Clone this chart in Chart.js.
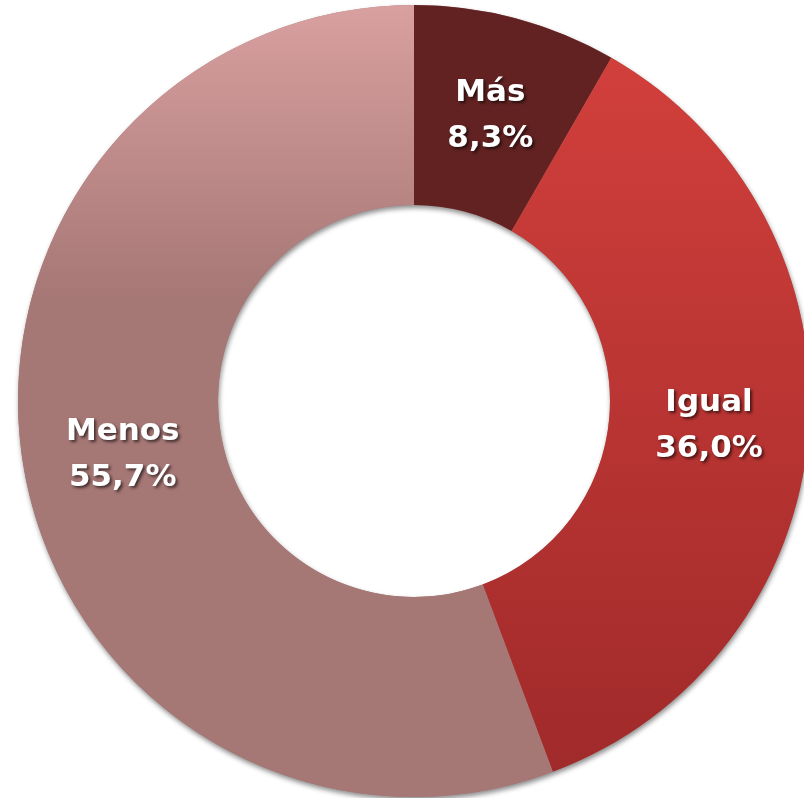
<!DOCTYPE html>
<html>
<head>
<meta charset="utf-8">
<script src="https://cdn.jsdelivr.net/npm/chart.js@4.4.1/dist/chart.umd.min.js"></script>
<style>
html,body{margin:0;padding:0;background:#fff;overflow:hidden;}
#wrap{position:relative;width:804px;height:798px;overflow:hidden;}
#box{position:absolute;left:0;top:0;width:810px;height:798px;}
</style>
</head>
<body>
<div id="wrap"><div id="box"><canvas id="c"></canvas></div></div>
<script>
const categories = ["Más", "Igual", "Menos"];
const values = [8.3, 36.0, 55.7];
const valueLabels = ["8,3%", "36,0%", "55,7%"];

function grad(ctx, chartArea, y0, y1, c0, c1) {
  const g = ctx.createLinearGradient(0, y0, 0, y1);
  g.addColorStop(0, c0);
  g.addColorStop(1, c1);
  return g;
}

const ringShadow = {
  id: 'ringShadow',
  beforeDatasetsDraw(chart) {
    const meta = chart.getDatasetMeta(0);
    if (!meta.data.length) return;
    const a = meta.data[0];
    const ctx = chart.ctx;
    ctx.save();
    ctx.beginPath();
    ctx.arc(a.x, a.y, a.outerRadius, 0, Math.PI * 2);
    ctx.arc(a.x, a.y, a.innerRadius, 0, Math.PI * 2, true);
    ctx.closePath();
    ctx.shadowColor = 'rgba(0,0,0,0.45)';
    ctx.shadowBlur = 5;
    ctx.shadowOffsetX = 1;
    ctx.shadowOffsetY = 3;
    ctx.fillStyle = '#a57775';
    ctx.fill();
    ctx.restore();
  }
};

const sliceLabels = {
  id: 'sliceLabels',
  afterDatasetsDraw(chart) {
    const meta = chart.getDatasetMeta(0);
    const ctx = chart.ctx;
    ctx.save();
    ctx.font = 'bold 31px "DejaVu Sans", sans-serif';
    ctx.textAlign = 'center';
    ctx.textBaseline = 'middle';
    ctx.fillStyle = '#ffffff';
    ctx.shadowColor = 'rgba(0,0,0,0.6)';
    ctx.shadowBlur = 3;
    ctx.shadowOffsetX = 2;
    ctx.shadowOffsetY = 2;
    meta.data.forEach((arc, i) => {
      const p = arc.tooltipPosition();
      ctx.fillText(categories[i], p.x, p.y - 22);
      ctx.fillText(valueLabels[i], p.x, p.y + 24);
    });
    ctx.restore();
  }
};

new Chart(document.getElementById('c'), {
  type: 'doughnut',
  data: {
    labels: categories,
    datasets: [{
      data: values,
      borderWidth: 0,
      backgroundColor(context) {
        const chart = context.chart;
        const area = chart.chartArea;
        if (!area) return '#a57775';
        const ctx = chart.ctx;
        const i = context.dataIndex;
        if (i === 0) return '#622222';
        if (i === 1) return grad(ctx, area, 60, 772, '#d13f3b', '#a02a2a');
        return grad(ctx, area, 5, 300, '#d9a0a0', '#a57775');
      }
    }]
  },
  options: {
    responsive: true,
    maintainAspectRatio: false,
    animation: false,
    cutout: '49.5%',
    layout: { padding: { left: 18, right: 0, top: 5, bottom: 1 } },
    plugins: {
      legend: { display: false },
      tooltip: { enabled: false }
    }
  },
  plugins: [ringShadow, sliceLabels]
});
</script>
</body>
</html>
